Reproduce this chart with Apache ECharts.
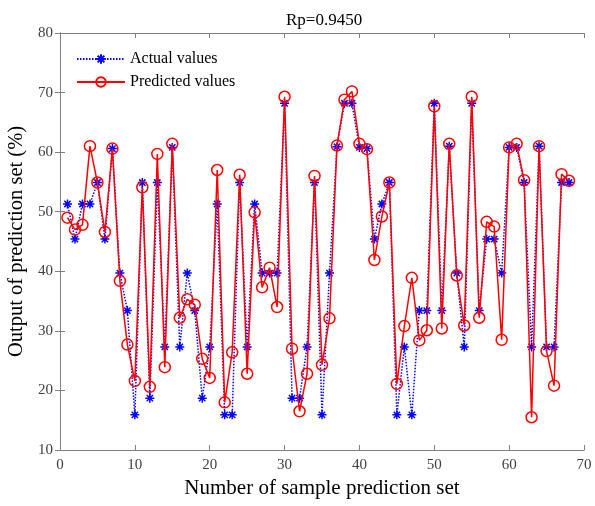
<!DOCTYPE html>
<html>
<head>
<meta charset="utf-8">
<script src="https://cdn.jsdelivr.net/npm/echarts@6/dist/echarts.min.js"></script>
<style>html,body{margin:0;padding:0;background:#fff;}#c{width:595px;height:506px;}</style>
</head>
<body>
<div id="c"></div>
<script>
var titleText = 'Rp=0.9450';
var xName = 'Number of sample prediction set';
var yName = 'Output of prediction set (%)';
var seriesNames = ['Actual values', 'Predicted values'];
var actual = [51.3,45.4,51.3,51.3,54.9,45.4,60.6,39.7,33.4,15.9,54.9,18.7,54.9,27.3,60.8,27.3,39.7,33.4,18.7,27.3,51.3,15.9,15.9,54.9,27.3,51.3,39.7,39.7,39.7,68.2,18.7,18.7,27.3,54.9,15.9,39.7,60.9,68.2,68.2,60.8,60.6,45.4,51.3,54.9,15.9,27.3,15.9,33.4,33.4,68.2,33.4,61.0,39.7,27.3,68.2,33.4,45.4,45.4,39.7,60.8,60.8,54.9,27.3,61.0,27.3,27.3,54.9,54.9];
var predicted = [49.0,47.0,47.8,61.0,54.9,46.6,60.6,38.4,27.7,21.6,54.1,20.6,59.7,23.9,61.4,32.2,35.3,34.4,25.3,22.1,57.0,18.0,26.4,56.2,22.8,49.9,37.3,40.6,34.0,69.3,27.0,16.5,22.8,56.0,24.3,32.1,61.1,68.8,70.2,61.4,60.5,41.9,49.2,54.9,21.1,30.8,38.9,28.4,30.1,67.7,30.4,61.4,39.3,30.9,69.3,32.2,48.3,47.5,28.5,60.8,61.4,55.3,15.5,61.0,26.6,20.8,56.3,55.2];
var xTicks = [0,10,20,30,40,50,60,70];
var yTicks = [10,20,30,40,50,60,70,80];

function pairs(arr){ return arr.map(function(v,i){ return [i+1, v]; }); }
var serif = '"Liberation Serif", "DejaVu Serif", serif';
var axisGray = '#808080';
var labelGray = '#404040';
var starPath = 'path://M0,5L10,5M5,0L5,10M1.5,1.5L8.5,8.5M8.5,1.5L1.5,8.5';

var chart = echarts.init(document.getElementById('c'), null, {renderer:'canvas'});
var baseAxisX = {
  type:'value', min:xTicks[0], max:xTicks[xTicks.length-1], interval:10,
  axisLine:{show:true, lineStyle:{color:axisGray, width:1}},
  axisTick:{show:true, inside:true, length:5, lineStyle:{color:axisGray}},
  splitLine:{show:false}
};
var baseAxisY = {
  type:'value', min:yTicks[0], max:yTicks[yTicks.length-1], interval:10,
  axisLine:{show:true, lineStyle:{color:axisGray, width:1}},
  axisTick:{show:true, inside:true, length:5, lineStyle:{color:axisGray}},
  splitLine:{show:false}
};
chart.setOption({
  animation:false,
  backgroundColor:'#fff',
  title:{text:titleText, left:281, top:7,
    textStyle:{fontFamily:serif, fontSize:17, fontWeight:'normal', color:'#000'}},
  grid:{left:60, right:11, top:33, bottom:56, containLabel:false, outerBoundsMode:'none'},
  legend:{
    orient:'vertical', left:71, top:46, itemWidth:48, itemHeight:12, itemGap:7,
    textStyle:{fontFamily:serif, fontSize:16, color:'#000'},
    data:seriesNames
  },
  xAxis:[
    Object.assign({}, baseAxisX, {position:'bottom',
      name:xName, nameLocation:'middle', nameGap:27,
      nameTextStyle:{fontFamily:serif, fontSize:21, color:'#000'},
      axisLabel:{fontFamily:serif, fontSize:15, color:labelGray, margin:8}}),
    Object.assign({}, baseAxisX, {position:'top', axisLabel:{show:false}})
  ],
  yAxis:[
    Object.assign({}, baseAxisY, {position:'left',
      name:yName, nameLocation:'middle', nameGap:31, nameRotate:90,
      nameTextStyle:{fontFamily:serif, fontSize:20.5, color:'#000'},
      axisLabel:{fontFamily:serif, fontSize:15, color:labelGray, margin:7}}),
    Object.assign({}, baseAxisY, {position:'right', axisLabel:{show:false}})
  ],
  series:[
    {
      name:seriesNames[0], type:'line', data:pairs(actual),
      symbol:starPath, symbolSize:9, showSymbol:true,
      lineStyle:{color:'#0000ff', width:1.5, type:[1.5,1.5]},
      itemStyle:{color:'#0000ff', borderColor:'#0000ff', borderWidth:1.5},
      z:2
    },
    {
      name:seriesNames[1], type:'line', data:pairs(predicted),
      symbol:'circle', symbolSize:11, showSymbol:true,
      lineStyle:{color:'#ff0000', width:1.5},
      itemStyle:{color:'rgba(255,255,255,0)', borderColor:'#ff0000', borderWidth:1.5},
      z:3
    }
  ]
});
</script>
</body>
</html>
